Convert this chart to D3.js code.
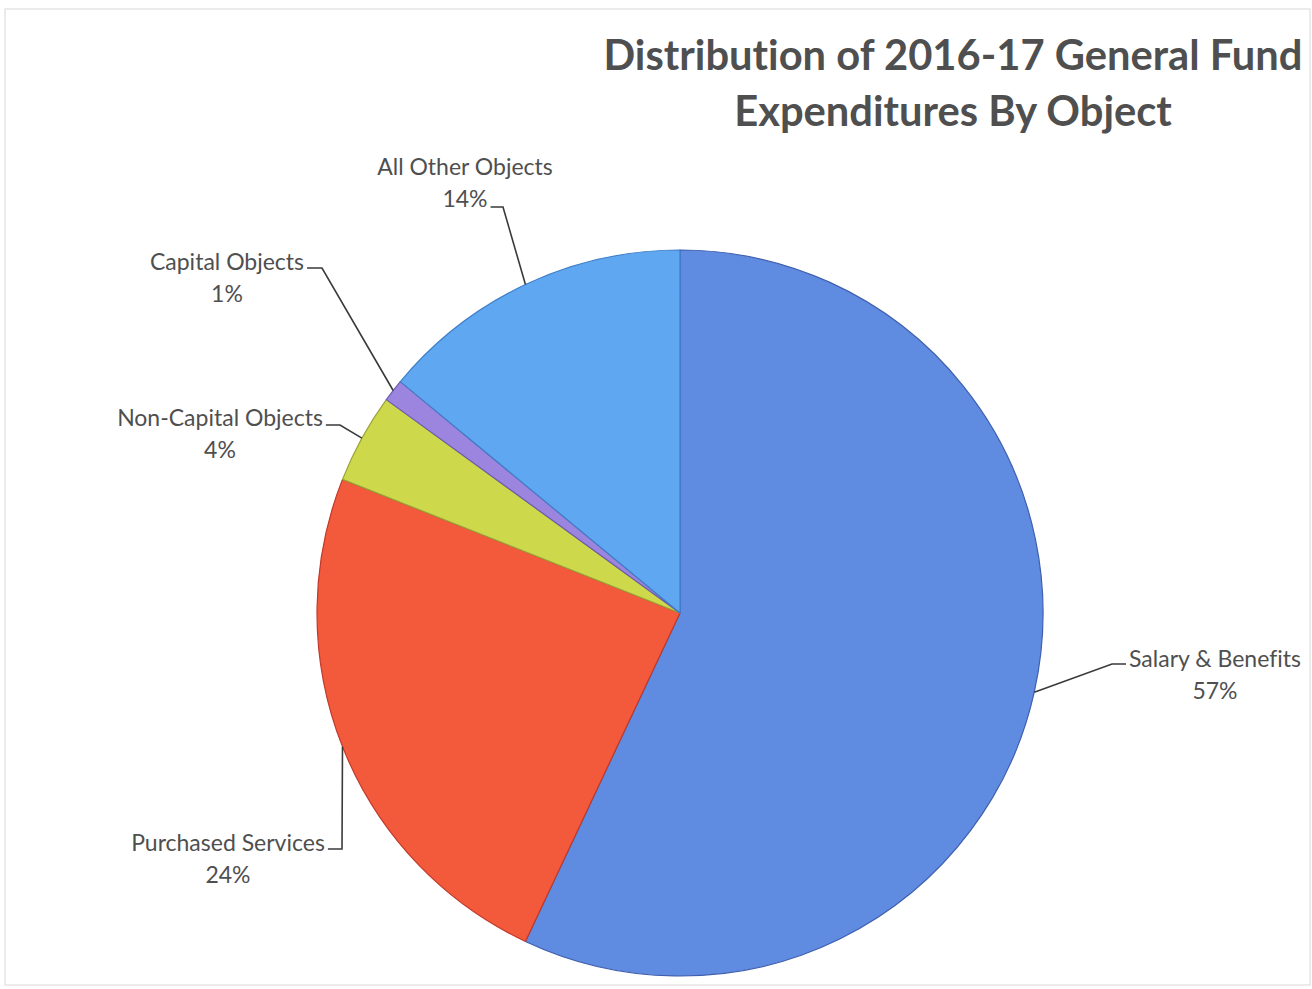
<!DOCTYPE html>
<html>
<head>
<meta charset="utf-8">
<script src="https://cdn.jsdelivr.net/npm/d3@7/dist/d3.min.js"></script>
<style>
  html, body { margin: 0; padding: 0; background: #fff; }
  svg { display: block; }
  text { font-family: Lato, "Open Sans", "DejaVu Sans", sans-serif; fill: #4f4f4f; font-variant-ligatures: none; }
</style>
</head>
<body>
<svg id="chart" width="1312" height="989"></svg>
<script>
// Share of 2016-17 general fund expenditures, in slice order (clockwise from 12 o'clock)
const categories = ["Salary & Benefits", "Purchased Services", "Non-Capital Objects", "Capital Objects", "All Other Objects"];
const percents = [57, 24, 4, 1, 14];
const colors = ["#5f8be0", "#f25a3b", "#cdd94b", "#9b85de", "#5fa8f1"];
const strokes = ["#3f5fae", "#c0392b", "#9aa236", "#6d5cb0", "#3f7fc8"];
const titleLines = ["Distribution of 2016-17 General Fund", "Expenditures By Object"];

// Label placement: text centre x, first baseline y, elbow of the leader,
// which text line the leader meets (0 = name, 1 = percent) and on which side
const labelLayout = [
  { cx: 1215, y: 667, ex: 1112, ey: 664, line: 0, side: "left" },
  { cx: 228,  y: 851, ex: 342,  ey: 849, line: 0, side: "right" },
  { cx: 220,  y: 426, ex: 340,  ey: 425, line: 0, side: "right" },
  { cx: 227,  y: 270, ex: 322,  ey: 268, line: 0, side: "right" },
  { cx: 465,  y: 175, ex: 503,  ey: 207, line: 1, side: "right" }
];

const svg = d3.select("#chart");
const cx = 680, cy = 613, radius = 363;

// faint page frame
svg.append("rect")
  .attr("x", 5).attr("y", 9).attr("width", 1305).attr("height", 976)
  .attr("fill", "none").attr("stroke", "#d8d8d8").attr("stroke-width", 1);

// title
const title = svg.append("text")
  .attr("text-anchor", "middle")
  .style("font-weight", "bold")
  .style("font-size", "41.7px");
titleLines.forEach((line, i) => {
  title.append("tspan").attr("x", 953).attr("y", 70 + i * 56).text(line);
});

const data = categories.map((c, i) => ({ name: c, value: percents[i], i }));

const pie = d3.pie().sort(null).value(d => d.value);
const arcs = pie(data);
const arc = d3.arc().innerRadius(0).outerRadius(radius);

const g = svg.append("g").attr("transform", `translate(${cx},${cy})`);

g.selectAll("path.slice")
  .data(arcs)
  .join("path")
  .attr("class", "slice")
  .attr("d", arc)
  .attr("fill", d => colors[d.data.i])
  .attr("stroke", d => strokes[d.data.i])
  .attr("stroke-width", 1.2)
  .attr("stroke-linejoin", "round");

// labels with leader lines
const labels = svg.append("g");
arcs.forEach(a => {
  const L = labelLayout[a.data.i];
  const mid = (a.startAngle + a.endAngle) / 2;
  const px = cx + radius * Math.sin(mid);
  const py = cy - radius * Math.cos(mid);

  const t = labels.append("text")
    .attr("text-anchor", "middle")
    .style("font-size", "23px");
  t.append("tspan").attr("x", L.cx).attr("y", L.y).text(a.data.name);
  t.append("tspan").attr("x", L.cx).attr("y", L.y + 32).text(d3.format(".0%")(a.data.value / 100));

  const w = t.selectAll("tspan").nodes()[L.line].getComputedTextLength();
  const tx = L.side === "right" ? L.cx + w / 2 + 3 : L.cx - w / 2 - 3;

  labels.append("path")
    .attr("d", d3.line()([[px, py], [L.ex, L.ey], [tx, L.ey]]))
    .attr("fill", "none")
    .attr("stroke", "#3a3a3a")
    .attr("stroke-width", 1.6);
});
</script>
</body>
</html>
